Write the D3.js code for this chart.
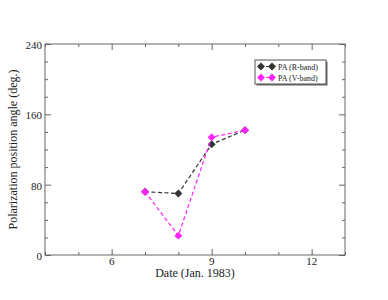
<!DOCTYPE html>
<html>
<head>
<meta charset="utf-8">
<script src="https://cdn.jsdelivr.net/npm/d3@7"></script>
<style>
  body { margin: 0; background: #fff; }
  svg text { font-family: 'Liberation Serif', 'DejaVu Serif', serif; }
</style>
</head>
<body>
<div id="chart"></div>
<script>
// data
const days = [7, 8, 9, 10];
const paR = [72, 70, 126, 142];
const paV = [72, 22, 134, 142];
const xTicks = [6, 9, 12];
const yTicks = [0, 80, 160, 240];
const seriesNames = ["PA (R-band)", "PA (V-band)"];
const seriesColors = ["#333333", "#ff22ff"];

const width = 388, height = 300;
const margin = {top: 44, left: 45, right: 43, bottom: 45};
const serif = "'Liberation Serif', 'DejaVu Serif', serif";

const svg = d3.select("#chart").append("svg")
    .attr("width", width)
    .attr("height", height);

const xScale = d3.scaleLinear().domain([4, 13]).range([margin.left, width - margin.right]);
const yScale = d3.scaleLinear().domain([0, 240]).range([height - margin.bottom, margin.top]);

const frameColor = "#666";

/* ticks, all pointing inward */
function tickAxis(axis, transform) {
    const g = svg.append("g").attr("transform", transform).call(axis);
    g.select(".domain").remove();
    g.selectAll("line").attr("stroke", frameColor);
    return g;
}
const xMinor = d3.range(4, 13.01, 1).filter(d => xTicks.indexOf(d) < 0);
const yMinor = d3.range(0, 240.01, 20).filter(d => yTicks.indexOf(d) < 0);
const yBot = height - margin.bottom, yTop = margin.top;

// bottom
tickAxis(d3.axisTop(xScale).tickValues(xTicks).tickSize(6).tickFormat(""), `translate(0,${yBot})`);
tickAxis(d3.axisTop(xScale).tickValues(xMinor).tickSize(3).tickFormat(""), `translate(0,${yBot})`);
// top
tickAxis(d3.axisBottom(xScale).tickValues(xTicks).tickSize(6).tickFormat(""), `translate(0,${yTop})`);
tickAxis(d3.axisBottom(xScale).tickValues(xMinor).tickSize(3).tickFormat(""), `translate(0,${yTop})`);
// left
tickAxis(d3.axisRight(yScale).tickValues(yTicks).tickSize(6).tickFormat(""), `translate(${margin.left},0)`);
tickAxis(d3.axisRight(yScale).tickValues(yMinor).tickSize(3).tickFormat(""), `translate(${margin.left},0)`);
// right
tickAxis(d3.axisLeft(yScale).tickValues(yTicks).tickSize(6).tickFormat(""), `translate(${width - margin.right},0)`);
tickAxis(d3.axisLeft(yScale).tickValues(yMinor).tickSize(3).tickFormat(""), `translate(${width - margin.right},0)`);

/* tick labels */
svg.selectAll(".xlab").data(xTicks).enter().append("text")
    .attr("x", d => xScale(d))
    .attr("y", yBot + 10)
    .attr("text-anchor", "middle")
    .attr("font-family", serif)
    .attr("font-size", 11)
    .attr("fill", "#222")
    .text(d => d);

svg.selectAll(".ylab").data(yTicks).enter().append("text")
    .attr("x", margin.left - 3)
    .attr("y", d => yScale(d) + 5)
    .attr("text-anchor", "end")
    .attr("font-family", serif)
    .attr("font-size", 11)
    .attr("fill", "#222")
    .text(d => d);

/* frame */
svg.append("rect")
    .attr("x", margin.left)
    .attr("y", margin.top)
    .attr("width", width - margin.left - margin.right)
    .attr("height", height - margin.top - margin.bottom)
    .attr("fill", "none")
    .attr("stroke", frameColor)
    .attr("stroke-width", 1);

/* axis titles */
svg.append("text")
    .attr("x", (margin.left + width - margin.right) / 2)
    .attr("y", yBot + 22)
    .attr("text-anchor", "middle")
    .attr("font-family", serif)
    .attr("font-size", 12)
    .attr("fill", "#222")
    .text("Date (Jan. 1983)");

svg.append("text")
    .attr("transform", "rotate(-90)")
    .attr("x", -(yTop + yBot) / 2)
    .attr("y", 17)
    .attr("text-anchor", "middle")
    .attr("font-family", serif)
    .attr("font-size", 12)
    .attr("fill", "#222")
    .text("Polarization position angle (deg.)");

/* series */
const diamond = d3.symbol().type(d3.symbolDiamond2).size(40);
const line = d3.line().x(d => xScale(d[0])).y(d => yScale(d[1]));

[paR, paV].forEach(function(vals, i) {
    const pts = days.map((d, j) => [d, vals[j]]);
    svg.append("path")
        .attr("d", line(pts))
        .attr("fill", "none")
        .attr("stroke", seriesColors[i])
        .attr("stroke-width", 1.2)
        .attr("stroke-dasharray", "4,2.5");
    svg.selectAll(".pt" + i).data(pts).enter().append("path")
        .attr("transform", d => `translate(${xScale(d[0])},${yScale(d[1])})`)
        .attr("d", diamond)
        .attr("fill", seriesColors[i]);
});

/* legend */
const lg = svg.append("g").attr("transform", "translate(255,60)");
lg.append("rect").attr("x", 1.5).attr("y", 1.5).attr("width", 71).attr("height", 24).attr("fill", "#666");
lg.append("rect").attr("x", 0).attr("y", 0).attr("width", 71).attr("height", 24)
    .attr("fill", "#fff").attr("stroke", "#555").attr("stroke-width", 1);

seriesNames.forEach(function(name, i) {
    const y = 6.5 + i * 11;
    lg.append("line")
        .attr("x1", 6).attr("x2", 17).attr("y1", y).attr("y2", y)
        .attr("stroke", seriesColors[i]).attr("stroke-width", 1.2)
        .attr("stroke-dasharray", "3,2");
    [6, 17].forEach(function(px) {
        lg.append("path")
            .attr("transform", `translate(${px},${y})`)
            .attr("d", diamond)
            .attr("fill", seriesColors[i]);
    });
    lg.append("text")
        .attr("x", 23)
        .attr("y", y + 3)
        .attr("font-family", serif)
        .attr("font-size", 8)
        .attr("fill", "#222")
        .text(name);
});
</script>
</body>
</html>
